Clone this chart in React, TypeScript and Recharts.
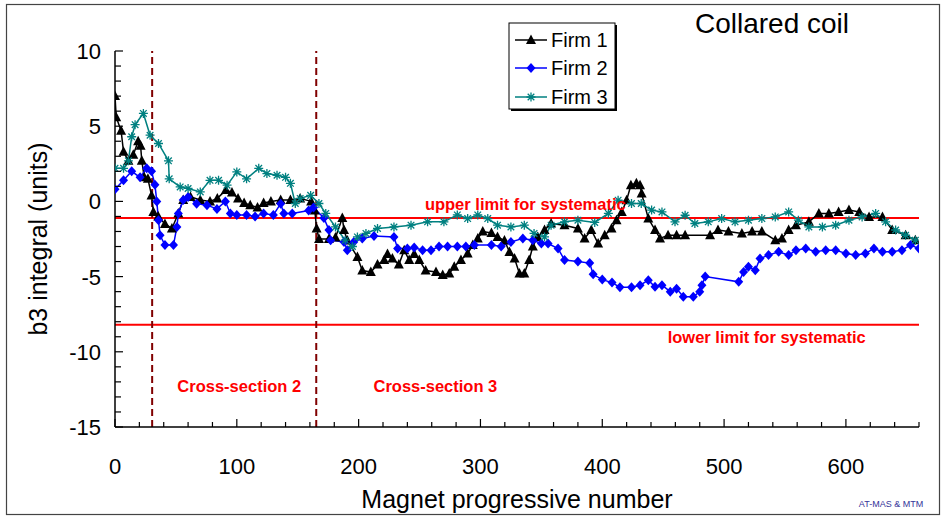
import React from 'react';
import { LineChart, Line, XAxis, YAxis, ReferenceLine, ReferenceDot, Label } from 'recharts';

// magnet number / b3 value pairs
const firm1X = [0, 1, 5, 7, 11, 15, 19, 21, 22, 24, 27, 30, 31.5, 35.5, 41, 46.7, 52, 56, 62, 70, 78, 84, 91, 96, 101, 106, 111, 117, 122, 128, 136, 144, 152, 161, 164, 165.5, 167.5, 175.6, 181, 186.6, 188, 190.7, 199, 203, 210, 215.5, 221, 223.7, 227.7, 233, 237.4, 241.5, 245.6, 249.8, 255, 263.5, 269, 274.4, 278.5, 284, 289.5, 293.7, 297.8, 301.9, 309, 314, 319.7, 323.8, 328, 332, 336, 340, 343, 347, 352.6, 358, 369, 380, 385.5, 391, 396.6, 402, 407.6, 411.7, 416, 420, 423.5, 428, 431, 432.3, 437.8, 443.3, 447.4, 454, 461, 468, 488.5, 495, 503.6, 514.6, 523, 531, 542, 547.5, 553, 559, 569.6, 577.8, 586, 594, 602.5, 611, 619, 630, 638, 649, 657];
const firm1Y = [7.0, 5.6, 4.7, 3.3, 2.7, 3.1, 4.0, 3.7, 2.7, 1.6, 1.5, 0.4, -0.7, -1.0, -1.5, -1.8, -0.8, 0.1, 0.3, 0.1, 0.0, 0.2, 0.75, 0.6, 0.2, -0.1, -0.25, -0.4, -0.1, 0.0, 0.1, 0.1, 0.2, 0.0, -0.6, -1.8, -2.5, -2.5, -2.4, -1.1, -1.9, -2.6, -3.7, -4.6, -4.7, -4.2, -3.9, -3.5, -3.8, -4.2, -3.25, -3.9, -3.5, -3.9, -4.6, -4.7, -4.9, -4.8, -4.35, -3.9, -3.46, -2.9, -2.46, -2.0, -2.1, -2.36, -2.6, -3.36, -3.8, -4.8, -4.8, -3.9, -3.0, -2.36, -1.9, -1.47, -1.58, -1.8, -2.46, -1.9, -2.8, -2.25, -1.8, -1.25, -0.7, 0.08, 1.08, 1.2, 1.08, 0.52, -1.14, -1.9, -2.46, -2.25, -2.25, -2.25, -2.25, -1.9, -2.0, -2.13, -2.0, -2.0, -2.58, -2.46, -1.9, -1.58, -1.36, -0.8, -0.8, -0.7, -0.58, -0.7, -1.03, -1.03, -1.9, -2.25, -2.58];

const firm2X = [0, 7, 13.7, 20.6, 26, 30, 32.8, 34.3, 35.7, 37, 41, 48, 50.8, 52, 56, 60, 67, 75.5, 83.7, 90.6, 94.7, 100, 108, 115, 122, 130, 136, 138.6, 145.5, 159, 163, 171.5, 175.6, 177, 188, 190.7, 196, 203, 212.6, 229, 232, 240, 245.6, 252.5, 259.4, 266, 273, 281, 288, 295, 309, 317, 325, 334.8, 343, 350, 355.5, 363.7, 369, 380, 389.7, 392.5, 400, 408, 414.5, 424, 431, 437.8, 443.3, 449, 455.8, 461, 466.5, 474.7, 480, 481.8, 484.5, 512, 516, 520, 525.6, 529.5, 536.5, 544.8, 553, 559, 567, 575.2, 583.4, 591.6, 600, 608, 616, 623, 630, 638, 646, 653, 660];
const firm2Y = [0.8, 1.4, 2.0, 1.6, 2.2, 2.0, 1.1, 0.0, -1.25, -2.25, -2.9, -2.9, -1.7, -0.8, 0.1, 0.3, -0.15, -0.25, -0.5, 0.0, -0.8, -0.9, -0.9, -1.0, -0.8, -0.9, -0.15, -0.8, -0.8, -0.6, -0.4, -1.1, -1.9, -2.58, -2.7, -3.24, -2.7, -2.46, -2.3, -2.36, -3.13, -3.13, -3.06, -3.24, -3.24, -3.0, -3.0, -3.0, -3.0, -2.9, -2.9, -3.0, -2.7, -2.46, -2.58, -2.8, -2.8, -3.13, -3.9, -4.0, -4.1, -4.85, -5.2, -5.4, -5.7, -5.7, -5.57, -5.24, -5.68, -5.57, -6.0, -5.8, -6.34, -6.34, -6.0, -5.57, -5.0, -5.35, -4.7, -4.35, -4.57, -3.8, -3.57, -3.35, -3.57, -3.24, -3.13, -3.35, -3.24, -3.24, -3.46, -3.57, -3.46, -3.13, -3.35, -3.35, -3.24, -2.9, -3.13];

const firm3X = [0, 7, 11, 13.7, 16.5, 23.3, 28.8, 35.7, 43.9, 44.5, 53.5, 60, 70, 78, 85, 92, 100, 108, 118, 124.7, 133, 140, 144, 148, 152, 160.6, 167.4, 173, 181, 189, 194.9, 199, 206, 215.5, 229, 243, 256.6, 270, 281, 289.5, 297.8, 306, 314, 325, 336, 344, 352.6, 358, 369, 380, 393.8, 405, 413, 424, 432, 440.5, 449, 459.7, 468, 476, 487, 498, 509, 520, 531, 542, 553, 561, 569.6, 580.7, 591.6, 602.5, 613.3, 624.4, 632.6, 640.8, 649, 657];
const firm3Y = [2.2, 2.2, 2.7, 4.3, 5.1, 5.85, 4.4, 3.85, 2.7, 1.5, 0.96, 0.86, 0.63, 1.4, 1.4, 1.08, 1.96, 1.5, 2.2, 1.85, 1.74, 1.6, 1.2, -0.14, 0.2, 0.4, -0.14, -0.8, -1.7, -2.58, -3.0, -2.36, -2.13, -1.8, -1.7, -1.58, -1.36, -1.36, -0.9, -1.14, -0.9, -1.14, -1.58, -1.7, -1.58, -2.13, -2.36, -1.58, -1.36, -1.25, -1.4, -0.8, 0.08, -0.14, -0.14, -0.58, -0.7, -1.36, -0.92, -1.47, -1.36, -1.14, -1.36, -1.25, -1.14, -1.03, -0.7, -1.25, -1.7, -1.7, -1.58, -1.25, -1.03, -0.8, -1.36, -1.9, -2.25, -2.58];

const xTicks = [0, 20, 40, 60, 80, 100, 120, 140, 160, 180, 200, 220, 240, 260, 280, 300, 320, 340, 360, 380, 400, 420, 440, 460, 480, 500, 520, 540, 560, 580, 600, 620, 640, 660];
const yTicks = [-15, -14, -13, -12, -11, -10, -9, -8, -7, -6, -5, -4, -3, -2, -1, 0, 1, 2, 3, 4, 5, 6, 7, 8, 9, 10];

const upperLimit = -1.1;
const lowerLimit = -8.2;
const sectionBounds = [30.5, 165.2];

const toPoints = (xs: number[], ys: number[]) => xs.map((x, i) => ({ x, y: ys[i] }));
const firm1 = toPoints(firm1X, firm1Y);
const firm2 = toPoints(firm2X, firm2Y);
const firm3 = toPoints(firm3X, firm3Y);

const FONT = '"Liberation Sans", Arial, sans-serif';
const TEAL = '#008080';

const Triangle = ({ cx, cy }: any) => (
  <path d={`M${cx},${cy - 5.5}L${cx + 5},${cy + 4}L${cx - 5},${cy + 4}Z`} fill="#000" />
);
const Diamond = ({ cx, cy }: any) => (
  <path d={`M${cx},${cy - 5}L${cx + 4.5},${cy}L${cx},${cy + 5}L${cx - 4.5},${cy}Z`} fill="#0000ff" />
);
const Star = ({ cx, cy }: any) => (
  <path
    d={`M${cx - 4.5},${cy}H${cx + 4.5}M${cx},${cy - 4.5}V${cy + 4.5}M${cx - 3.3},${cy - 3.3}L${cx + 3.3},${cy + 3.3}M${cx - 3.3},${cy + 3.3}L${cx + 3.3},${cy - 3.3}`}
    stroke={TEAL}
    strokeWidth={1.3}
    fill="none"
  />
);

// tick marks point inwards, labels only on the major ticks
const YTick = ({ x, y, payload }: any) => {
  const major = payload.value % 5 === 0;
  return (
    <g>
      <line x1={x} x2={x + (major ? 8 : 6)} y1={y} y2={y} stroke="#000" strokeWidth={1.2} />
      {major && (
        <text x={x - 14} y={y + 8} textAnchor="end" fontSize={22} fontFamily={FONT} fill="#000">
          {payload.value}
        </text>
      )}
    </g>
  );
};

const XTick = ({ x, y, payload }: any) => {
  const major = payload.value % 100 === 0;
  return (
    <g>
      <line x1={x} x2={x} y1={y} y2={y - (major ? 8 : 5)} stroke="#000" strokeWidth={1.2} />
      {major && (
        <text x={x} y={y + 47} textAnchor="middle" fontSize={22} fontFamily={FONT} fill="#000">
          {payload.value}
        </text>
      )}
    </g>
  );
};

const YTitle = ({ viewBox }: any) => {
  const cy = viewBox.y + viewBox.height / 2;
  return (
    <text x={47} y={cy} transform={`rotate(-90 47 ${cy})`} textAnchor="middle" fontSize={25} fontFamily={FONT} fill="#000">
      b3 integral (units)
    </text>
  );
};

const note = (text: string) => (
  <Label value={text} position="center" fill="#ff0000" fontSize={16.5} fontWeight="bold" fontFamily={FONT} />
);

export default function App() {
  return (
    <div style={{ position: 'absolute', left: 0, top: 0, width: 943, height: 519, background: '#fff' }}>
      <LineChart
        width={943}
        height={519}
        margin={{ top: 51, right: 24, left: 0, bottom: 0 }}
        style={{ fontFamily: FONT }}
      >
        <XAxis
          type="number"
          dataKey="x"
          domain={[0, 660]}
          ticks={xTicks}
          interval={0}
          height={92}
          tickSize={0}
          tickMargin={0}
          tickLine={false}
          tick={<XTick />}
          axisLine={{ stroke: '#000', strokeWidth: 1.5 }}
          allowDataOverflow
        >
          <Label value="Magnet progressive number" position="insideBottom" offset={11} fontSize={25} fill="#000" fontFamily={FONT} />
        </XAxis>
        <YAxis
          type="number"
          domain={[-15, 10]}
          ticks={yTicks}
          interval={0}
          width={115}
          tickSize={0}
          tickMargin={0}
          tickLine={false}
          tick={<YTick />}
          axisLine={{ stroke: '#000', strokeWidth: 1.5 }}
          allowDataOverflow
          label={<YTitle />}
        />
        <ReferenceLine y={upperLimit} stroke="#ff0000" strokeWidth={2} />
        <ReferenceLine y={lowerLimit} stroke="#ff0000" strokeWidth={2} />
        {sectionBounds.map((b) => (
          <ReferenceLine key={b} x={b} stroke="#800000" strokeWidth={2} strokeDasharray="7 4" />
        ))}
        <Line
          data={firm1}
          dataKey="y"
          name="Firm 1"
          type="linear"
          stroke="#000"
          strokeWidth={1.5}
          dot={(p: any) => <Triangle key={`a${p.index}`} {...p} />}
          isAnimationActive={false}
        />
        <Line
          data={firm2}
          dataKey="y"
          name="Firm 2"
          type="linear"
          stroke="#0000ff"
          strokeWidth={1.5}
          dot={(p: any) => <Diamond key={`b${p.index}`} {...p} />}
          isAnimationActive={false}
        />
        <Line
          data={firm3}
          dataKey="y"
          name="Firm 3"
          type="linear"
          stroke={TEAL}
          strokeWidth={1.5}
          dot={(p: any) => <Star key={`c${p.index}`} {...p} />}
          isAnimationActive={false}
        />
        <ReferenceDot x={336.8} y={-0.15} r={0} stroke="none" fill="none">
          {note('upper limit for systematic')}
        </ReferenceDot>
        <ReferenceDot x={535} y={-9.0} r={0} stroke="none" fill="none">
          {note('lower limit for systematic')}
        </ReferenceDot>
        <ReferenceDot x={102} y={-12.3} r={0} stroke="none" fill="none">
          {note('Cross-section 2')}
        </ReferenceDot>
        <ReferenceDot x={263} y={-12.3} r={0} stroke="none" fill="none">
          {note('Cross-section 3')}
        </ReferenceDot>
      </LineChart>

      <svg width={943} height={519} style={{ position: 'absolute', left: 0, top: 0, pointerEvents: 'none' }}>
        <rect x={6.5} y={4.5} width={933} height={510} fill="none" stroke="#444" strokeWidth={1.2} />
        <text x={772} y={33} textAnchor="middle" fontSize={28} fontFamily={FONT} fill="#000">
          Collared coil
        </text>
        <text x={891} y={507} textAnchor="middle" fontSize={9} fontFamily={FONT} fill="#333399">
          AT-MAS &amp; MTM
        </text>
        <g>
          <rect x={511} y={25} width={106} height={86} fill="#000" />
          <rect x={509} y={23} width={106} height={86} fill="#fff" stroke="#000" strokeWidth={1} />
          <line x1={515} x2={547} y1={40} y2={40} stroke="#000" strokeWidth={1.5} />
          <Triangle cx={531} cy={40} />
          <text x={551} y={47} fontSize={20} fontFamily={FONT} fill="#000">Firm 1</text>
          <line x1={515} x2={547} y1={68} y2={68} stroke="#0000ff" strokeWidth={1.5} />
          <Diamond cx={531} cy={68} />
          <text x={551} y={75} fontSize={20} fontFamily={FONT} fill="#000">Firm 2</text>
          <line x1={515} x2={547} y1={97} y2={97} stroke={TEAL} strokeWidth={1.5} />
          <Star cx={531} cy={97} />
          <text x={551} y={104} fontSize={20} fontFamily={FONT} fill="#000">Firm 3</text>
        </g>
      </svg>
    </div>
  );
}
